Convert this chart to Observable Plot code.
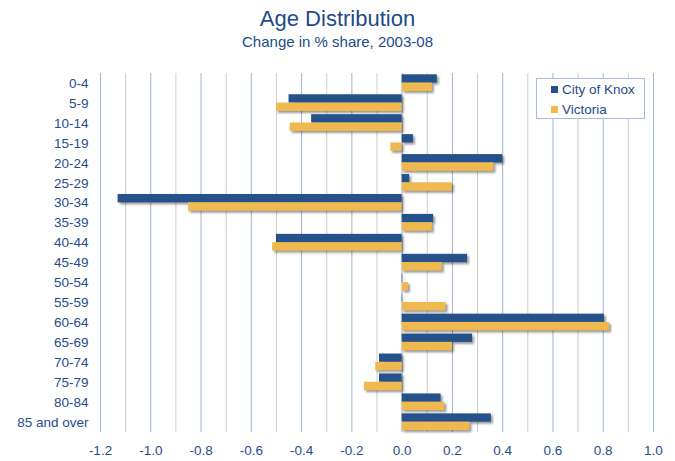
<!DOCTYPE html>
<html>
<head>
<meta charset="utf-8">
<script src="https://cdn.jsdelivr.net/npm/d3@7"></script>
<script src="https://cdn.jsdelivr.net/npm/@observablehq/plot@0.6"></script>
<style>
  html, body { margin: 0; padding: 0; background: #fff; }
  body { width: 675px; height: 461px; position: relative; overflow: hidden; font-family: "Liberation Sans", Arial, sans-serif; }
  #head { height: 58px; text-align: center; color: #234a8a; }
  #title { font-size: 22px; line-height: 22px; padding-top: 8px; }
  #subtitle { font-size: 15px; line-height: 17px; margin-top: 3px; }
  #legend { position: absolute; left: 536px; top: 78px; width: 107px; height: 39px; border: 1.5px solid #a9bdd8; background: #fff; color: #234a8a; font-size: 13.5px; }
  #legend .item { position: absolute; left: 14px; white-space: nowrap; }
  #legend .sw { display: inline-block; width: 7px; height: 7px; margin-right: 4px; vertical-align: 1px; }
  svg g[aria-label="bar"] { filter: drop-shadow(2px 2px 1.2px rgba(0,0,0,0.4)); }
</style>
</head>
<body>
<div id="head"><div id="title">Age Distribution</div><div id="subtitle">Change in % share, 2003-08</div></div>
<div id="chart"></div>
<div id="legend"></div>
<script>
const categories = ["0-4","5-9","10-14","15-19","20-24","25-29","30-34","35-39","40-44","45-49","50-54","55-59","60-64","65-69","70-74","75-79","80-84","85 and over"];
const knox     = [0.14,-0.45,-0.36,0.045,0.40,0.03,-1.13,0.125,-0.50,0.26,0.002,0.002,0.805,0.28,-0.09,-0.09,0.155,0.355];
const victoria = [0.12,-0.50,-0.445,-0.045,0.365,0.20,-0.85,0.12,-0.515,0.16,0.025,0.175,0.825,0.20,-0.105,-0.15,0.17,0.27];
const seriesNames = ["City of Knox","Victoria"];
const seriesColors = ["#26528b","#efb94f"];
const majorTicks = [-1.2,-1.0,-0.8,-0.6,-0.4,-0.2,0.0,0.2,0.4,0.6,0.8,1.0];
const minorTicks = [-1.1,-0.9,-0.7,-0.5,-0.3,-0.1,0.1,0.3,0.5,0.7,0.9];

const knoxData = categories.map((c,i) => ({age: c, value: knox[i]}));
const vicData = categories.map((c,i) => ({age: c, value: victoria[i]}));

const chart = Plot.plot({
  width: 675,
  height: 403,
  marginTop: 15,
  marginBottom: 29,
  marginLeft: 100,
  marginRight: 22,
  style: {fontFamily: "'Liberation Sans', Arial, sans-serif", fontSize: "13.5px", color: "#274c8c", background: "#fff"},
  x: {domain: [-1.2, 1.0], ticks: majorTicks, tickFormat: d => d.toFixed(1), tickSize: 0, tickPadding: 13, label: null},
  y: {domain: categories, padding: 0, round: false, tickSize: 0, tickPadding: 12, label: null},
  marks: [
    Plot.ruleX(minorTicks, {stroke: "#cdcdcd", strokeWidth: 1}),
    Plot.ruleX(majorTicks, {stroke: "#9fb4d2", strokeWidth: 1}),
    Plot.barX(knoxData, {x: "value", y: "age", fill: seriesColors[0], insetTop: 1.3, insetBottom: 10.3}),
    Plot.barX(vicData, {x: "value", y: "age", fill: seriesColors[1], insetTop: 9.6, insetBottom: 1.9})
  ]
});
document.getElementById("chart").appendChild(chart);

const legend = document.getElementById("legend");
seriesNames.forEach((name, i) => {
  const it = document.createElement("div");
  it.className = "item";
  it.style.top = (3 + i * 20) + "px";
  it.innerHTML = `<span class="sw" style="background:${seriesColors[i]}"></span>${name}`;
  legend.appendChild(it);
});
</script>
</body>
</html>
